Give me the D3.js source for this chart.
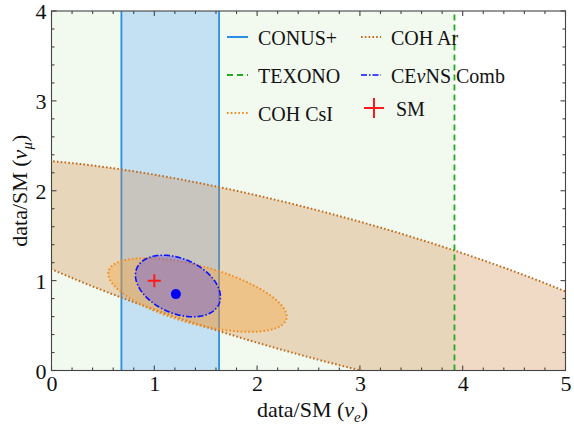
<!DOCTYPE html>
<html><head><meta charset="utf-8">
<script src="https://cdn.jsdelivr.net/npm/d3@7"></script>
<style>body{margin:0;background:#fff;}svg{display:block;font-family:"Liberation Serif","Times New Roman",serif;}</style>
</head><body><div id="chart"></div>
<script>
// ---- data ----
const xTickValues = [0, 1, 2, 3, 4, 5];
const yTickValues = [0, 1, 2, 3, 4];
const conusBand = [0.68, 1.63];          // allowed data/SM (nu_e) range
const texonoLimit = 3.92;               // upper limit data/SM (nu_e)
const ellipseNames   = ["COH Ar", "COH CsI", "CEvNS Comb"];
const ellipseCenterX = [2.63, 1.42, 1.23];
const ellipseCenterY = [0.94, 0.84, 0.94];
const ellipseSemiA   = [3.98, 0.905, 0.448];
const ellipseSemiB   = [0.794, 0.319, 0.296];
const ellipseAngle   = [-17.4, -17.7, -31];   // degrees in data units
const smPoint = [1, 1];
const bestFit = [1.21, 0.85];
const legendCol1 = ["CONUS+", "TEXONO", "COH CsI"];
const legendCol2 = ["COH Ar", "CEνNS Comb", "SM"];

// ---- layout ----
const W = 574, H = 431;
const m = {l: 51.5, r: 8.5, t: 11, b: 60.5};
const svg = d3.select("#chart").append("svg").attr("width", W).attr("height", H);
const x = d3.scaleLinear().domain([0, 5]).range([m.l, W - m.r]);
const y = d3.scaleLinear().domain([0, 4]).range([H - m.b, m.t]);

svg.append("defs").append("clipPath").attr("id", "clip")
  .append("rect").attr("x", x(0)).attr("y", y(4)).attr("width", x(5) - x(0)).attr("height", y(0) - y(4));
const plot = svg.append("g").attr("clip-path", "url(#clip)");

// TEXONO allowed region
plot.append("rect").attr("x", x(0)).attr("y", y(4))
  .attr("width", x(texonoLimit) - x(0)).attr("height", y(0) - y(4)).attr("fill", "#f2f9ef");

// CONUS+ band
plot.append("rect").attr("x", x(conusBand[0])).attr("y", y(4))
  .attr("width", x(conusBand[1]) - x(conusBand[0])).attr("height", y(0) - y(4))
  .attr("fill", "rgba(90,170,255,0.30)");
conusBand.forEach(v => plot.append("line").attr("x1", x(v)).attr("x2", x(v)).attr("y1", y(0)).attr("y2", y(4))
  .attr("stroke", "#2a8ee6").attr("stroke-width", 1.8));

function ellipsePts(i) {
  const th = ellipseAngle[i] * Math.PI / 180, pts = [];
  for (let k = 0; k < 360; k++) {
    const t = k / 360 * 2 * Math.PI;
    const dx = ellipseSemiA[i] * Math.cos(t) * Math.cos(th) - ellipseSemiB[i] * Math.sin(t) * Math.sin(th);
    const dy = ellipseSemiA[i] * Math.cos(t) * Math.sin(th) + ellipseSemiB[i] * Math.sin(t) * Math.cos(th);
    pts.push([ellipseCenterX[i] + dx, ellipseCenterY[i] + dy]);
  }
  return pts;
}
const line = d3.line().x(d => x(d[0])).y(d => y(d[1])).curve(d3.curveLinearClosed);
const eStyle = [
  {fill: "rgba(205,133,63,0.30)", stroke: "#c06a1c", dash: "1.6,2.2", w: 2},
  {fill: "rgba(250,160,50,0.36)", stroke: "#f28c20", dash: "1.6,2.2", w: 2},
  {fill: "rgba(100,75,220,0.38)", stroke: "#0a10ff", dash: "6,2,1.5,2", w: 1.6}
];
ellipseNames.forEach((n, i) => {
  plot.append("path").attr("d", line(ellipsePts(i))).attr("fill", eStyle[i].fill)
    .attr("stroke", eStyle[i].stroke).attr("stroke-width", eStyle[i].w).attr("stroke-dasharray", eStyle[i].dash);
});

// TEXONO line
plot.append("line").attr("x1", x(texonoLimit)).attr("x2", x(texonoLimit)).attr("y1", y(0)).attr("y2", y(4))
  .attr("stroke", "#22aa22").attr("stroke-width", 1.8).attr("stroke-dasharray", "6,4");

// best fit and SM
plot.append("circle").attr("cx", x(bestFit[0])).attr("cy", y(bestFit[1])).attr("r", 5).attr("fill", "#0000ff");
function cross(g, cx, cy, s) {
  g.append("line").attr("x1", cx - s).attr("x2", cx + s).attr("y1", cy).attr("y2", cy).attr("stroke", "#ff1a1a").attr("stroke-width", 2);
  g.append("line").attr("x1", cx).attr("x2", cx).attr("y1", cy - s).attr("y2", cy + s).attr("stroke", "#ff1a1a").attr("stroke-width", 2);
}
cross(plot, x(smPoint[0]), y(smPoint[1]), 6.5);

// frame and ticks
const frame = svg.append("g").attr("stroke", "#444").attr("stroke-width", 1.1);
frame.append("rect").attr("x", x(0)).attr("y", y(4)).attr("width", x(5) - x(0)).attr("height", y(0) - y(4)).attr("fill", "none");
const xMinor = d3.range(0, 5.001, 0.2), yMinor = d3.range(0, 4.001, 0.2);
xMinor.forEach(v => {
  const major = Math.abs(v - Math.round(v)) < 1e-6, L = major ? 5 : 3;
  frame.append("line").attr("x1", x(v)).attr("x2", x(v)).attr("y1", y(0)).attr("y2", y(0) - L);
  frame.append("line").attr("x1", x(v)).attr("x2", x(v)).attr("y1", y(4)).attr("y2", y(4) + L);
});
yMinor.forEach(v => {
  const major = Math.abs(v - Math.round(v)) < 1e-6, L = major ? 5 : 3;
  frame.append("line").attr("x1", x(0)).attr("x2", x(0) + L).attr("y1", y(v)).attr("y2", y(v));
  frame.append("line").attr("x1", x(5)).attr("x2", x(5) - L).attr("y1", y(v)).attr("y2", y(v));
});

// tick labels via axes (lines hidden)
const xAxis = svg.append("g").attr("transform", `translate(0,${y(0)})`)
  .call(d3.axisBottom(x).tickValues(xTickValues).tickSize(0).tickPadding(20).tickFormat(d3.format("d")));
const yAxis = svg.append("g").attr("transform", `translate(${x(0)},0)`)
  .call(d3.axisLeft(y).tickValues(yTickValues).tickSize(0).tickPadding(5).tickFormat(d3.format("d")));
[xAxis, yAxis].forEach(a => { a.select(".domain").remove(); a.selectAll("text").attr("font-family", "Liberation Serif").attr("font-size", 22).attr("fill", "#111"); });
xAxis.selectAll("text").attr("dy", "0");
yAxis.selectAll("text").attr("dy", "0.36em");

// axis titles
const xt = svg.append("text").attr("x", (x(0) + x(5)) / 2 + 4).attr("y", 417).attr("text-anchor", "middle")
  .attr("font-size", 22).attr("fill", "#111");
xt.append("tspan").text("data/SM (");
xt.append("tspan").attr("font-style", "italic").text("ν");
xt.append("tspan").attr("font-style", "italic").attr("font-size", 15).attr("dy", 5).text("e");
xt.append("tspan").attr("dy", -5).text(")");
const yt = svg.append("text").attr("transform", `translate(27,${(y(0) + y(4)) / 2}) rotate(-90)`).attr("text-anchor", "middle")
  .attr("font-size", 22).attr("fill", "#111");
yt.append("tspan").text("data/SM (");
yt.append("tspan").attr("font-style", "italic").text("ν");
yt.append("tspan").attr("font-style", "italic").attr("font-size", 15).attr("dy", 5).text("μ");
yt.append("tspan").attr("dy", -5).text(")");

// legend
const lg = svg.append("g").attr("font-size", 20).attr("fill", "#111");
const rows = [37, 75, 113];
const sample1 = [
  {stroke: "#2a8ee6", dash: null, w: 2},
  {stroke: "#22aa22", dash: "6,4", w: 2},
  {stroke: "#f28c20", dash: "1.6,2.2", w: 2}
];
legendCol1.forEach((t, i) => {
  lg.append("line").attr("x1", 227).attr("x2", 248).attr("y1", rows[i]).attr("y2", rows[i])
    .attr("stroke", sample1[i].stroke).attr("stroke-width", sample1[i].w).attr("stroke-dasharray", sample1[i].dash);
  lg.append("text").attr("x", 258).attr("y", rows[i] + 8).text(t);
});
const sample2 = [
  {stroke: "#c06a1c", dash: "1.6,2.2", w: 2},
  {stroke: "#0a10ff", dash: "6,2,1.5,2", w: 1.6}
];
legendCol2.forEach((t, i) => {
  if (i < 2) {
    lg.append("line").attr("x1", 361).attr("x2", 381).attr("y1", rows[i]).attr("y2", rows[i])
      .attr("stroke", sample2[i].stroke).attr("stroke-width", sample2[i].w).attr("stroke-dasharray", sample2[i].dash);
    const tx = lg.append("text").attr("x", 391).attr("y", rows[i] + 8);
    if (t.includes("ν")) {
      tx.append("tspan").text("CE");
      tx.append("tspan").attr("font-style", "italic").text("ν");
      tx.append("tspan").text("NS Comb");
    } else tx.text(t);
  } else {
    cross(lg, 374, 108, 10);
    lg.append("text").attr("x", 396).attr("y", 116).text(t);
  }
});
</script></body></html>
